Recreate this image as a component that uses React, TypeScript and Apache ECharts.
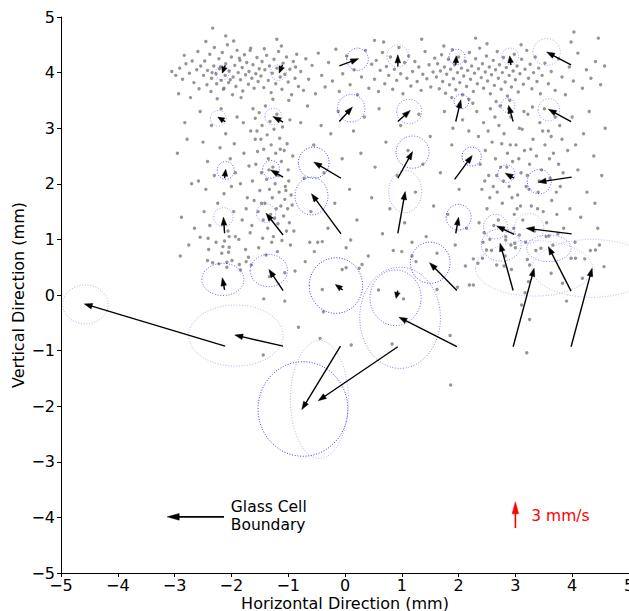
import React, { useEffect, useRef } from "react";
import * as echarts from "echarts";

// Quiver arrows: tail position (mm) and displacement (mm on the plot)
const arrowX = [-2.11, -1.10, -0.10, 0.93, 1.95, 2.92, 3.98, -2.11, -1.09, -0.10, 0.93, 1.95, 2.96, 3.98, -2.12, -1.09, -0.07, 0.93, 1.93, 2.98, 3.99, -2.12, -1.09, -0.07, 0.93, 1.95, 2.98, 3.99, -2.12, -1.09, -0.04, 0.93, 1.97, 2.96, 3.98, -2.11, -1.09, -0.08, 0.93, 1.97, 2.96, 3.98];
const arrowY = [4.13, 4.14, 4.12, 4.11, 4.14, 4.14, 4.14, 3.12, 3.11, 3.12, 3.12, 3.12, 3.12, 3.12, 2.10, 2.12, 2.10, 2.10, 2.08, 2.10, 2.12, 1.11, 1.08, 1.10, 1.11, 1.11, 1.09, 1.10, 0.09, 0.08, 0.09, 0.08, 0.08, 0.08, 0.07, -0.92, -0.92, -0.92, -0.93, -0.93, -0.93, -0.93];
const arrowU = [-0.05, -0.06, 0.34, 0.0, 0.01, -0.02, -0.43, -0.13, -0.18, 0.23, 0.22, 0.09, -0.08, -0.40, 0.02, -0.22, -0.48, 0.26, 0.31, -0.16, -0.59, -0.02, -0.30, -0.52, 0.13, 0.05, -0.31, -0.80, -0.04, -0.25, -0.13, -0.03, -0.48, -0.23, -0.40, -2.48, -0.85, -0.68, -1.40, -1.02, 0.37, 0.37];
const arrowV = [-0.14, -0.15, 0.13, 0.21, 0.16, 0.16, 0.23, 0.08, 0.10, 0.26, 0.20, 0.39, 0.29, 0.22, 0.16, 0.13, 0.29, 0.48, 0.43, 0.09, -0.09, 0.29, 0.39, 0.72, 0.75, 0.29, 0.15, 0.10, 0.22, 0.38, 0.10, -0.14, 0.50, 0.85, 0.80, 0.76, 0.20, -1.14, -0.97, 0.53, 1.41, 1.41];

// Uncertainty ellipses (centre, semi-axes in mm, opacity)
const ellX = [-2.16, -1.17, 0.22, 0.93, 1.97, 2.91, 3.55, -2.23, -1.26, 0.11, 1.13, 2.05, 2.87, 3.59, -2.10, -1.30, -0.55, 1.19, 2.23, 2.84, 3.42, -2.14, -1.39, -0.59, 1.06, 2.00, 2.65, 3.24, -2.15, -1.34, -0.16, 0.89, 1.50, 2.75, 3.59, -4.57, -1.92, -0.74, -0.45, 0.97, 3.33, 4.35];
const ellY = [4.00, 4.00, 4.24, 4.30, 4.28, 4.29, 4.37, 3.18, 3.21, 3.36, 3.30, 3.48, 3.41, 3.33, 2.24, 2.26, 2.38, 2.57, 2.49, 2.18, 2.04, 1.40, 1.47, 1.78, 1.86, 1.40, 1.23, 1.20, 0.28, 0.44, 0.17, -0.05, 0.58, 0.90, 0.84, -0.17, -0.73, -2.05, -1.88, -0.41, 0.48, 0.48];
const ellRX = [0.12, 0.14, 0.19, 0.19, 0.14, 0.15, 0.24, 0.14, 0.15, 0.24, 0.22, 0.13, 0.12, 0.19, 0.15, 0.15, 0.27, 0.29, 0.17, 0.15, 0.21, 0.17, 0.17, 0.29, 0.29, 0.22, 0.21, 0.26, 0.37, 0.33, 0.47, 0.45, 0.35, 0.35, 0.39, 0.40, 0.83, 0.79, 0.51, 0.71, 1.03, 1.06];
const ellRY = [0.13, 0.14, 0.20, 0.20, 0.14, 0.15, 0.24, 0.14, 0.15, 0.25, 0.22, 0.13, 0.13, 0.20, 0.16, 0.16, 0.28, 0.29, 0.17, 0.16, 0.22, 0.17, 0.17, 0.34, 0.38, 0.23, 0.22, 0.27, 0.29, 0.29, 0.50, 0.50, 0.37, 0.29, 0.24, 0.35, 0.55, 0.85, 1.06, 0.91, 0.50, 0.52];
const ellAlpha = [0.4, 0.4, 0.7, 0.4, 0.7, 0.4, 0.4, 0.4, 0.45, 0.65, 0.55, 0.7, 0.55, 0.45, 0.7, 0.7, 0.85, 0.7, 0.85, 0.6, 0.7, 0.45, 0.45, 0.7, 0.4, 0.7, 0.5, 0.35, 0.65, 0.65, 0.85, 0.65, 0.8, 0.55, 0.55, 0.35, 0.35, 0.85, 0.35, 0.55, 0.3, 0.3];

// Particle positions (mm)
const dots: number[][] = [
  [-2.98,3.95],[-2.91,4.08],[-2.86,3.88],[-2.80,4.16],[-2.74,3.99],[-2.69,4.21],[-2.66,3.82],[-2.61,4.05],[-2.57,3.71],[-2.54,4.12],[-2.93,3.62],[-2.72,3.55],[-2.83,4.31],[-2.59,4.38],[-3.05,4.02],
  [-2.49,3.95],[-2.47,4.21],[-2.43,3.78],[-2.42,4.04],[-2.38,4.33],[-2.36,3.66],[-2.35,3.9],[-2.31,4.12],[-2.3,4.45],[-2.27,3.98],[-2.26,3.8],[-2.22,4.25],[-2.21,4.07],[-2.18,3.86],[-2.16,4.36],[-2.14,3.7],[-2.11,3.95],[-2.1,4.16],[-2.07,4.5],[-2.05,3.82],[-2.04,4.03],[-2.0,4.28],[-1.98,3.6],[-1.97,3.92],[-1.94,4.13],[-1.92,3.75],[-1.9,4.4],[-1.88,4.0],[-1.85,4.22],[-1.84,3.87],[-1.81,4.09],[-1.8,3.67],[-1.77,4.32],[-1.75,3.96],[-1.73,4.18],[-1.7,3.79],[-1.69,4.02],[-1.66,4.44],[-1.64,3.9],[-1.62,4.14],[-1.6,3.72],[-1.57,3.98],[-1.55,4.27],[-1.53,3.84],[-1.51,4.07],
  [-2.45,4.56],[-2.25,3.53],[-2.13,3.72],[-1.96,4.57],[-1.83,3.55],[-1.67,4.4],[-2.34,4.0],[-2.19,4.1],[-2.02,3.87],[-1.86,4.26],
  [-1.48,3.94],[-1.46,4.2],[-1.43,3.73],[-1.41,4.05],[-1.38,4.31],[-1.35,3.86],[-1.33,4.12],[-1.3,3.64],[-1.28,3.99],[-1.25,4.24],[-1.22,3.8],[-1.2,4.08],[-1.17,4.38],[-1.14,3.92],[-1.11,3.7],[-1.09,4.17],[-1.06,3.97],[-1.03,4.28],[-1.0,3.83],[-0.97,4.06],[-0.94,3.6],[-0.91,4.2],[-0.88,3.9],[-0.85,4.33],[-0.82,3.75],[-1.42,4.43],[-1.27,3.52],[-1.12,4.48],[-0.99,3.5],[-0.87,4.1],
  [-0.78,4.02],[-0.73,3.68],[-0.69,4.25],[-0.64,3.88],[-0.58,4.13],[-0.52,3.62],[-0.47,4.35],[-0.41,3.95],[-0.35,3.74],[-0.29,4.18],[-0.22,3.85],[-0.16,4.42],[-0.1,3.66],[-0.04,3.98],[0.03,4.3],[0.09,3.78],[0.16,4.05],[0.22,3.6],[0.29,3.92],[0.36,4.4],[0.42,3.72],[0.47,4.15],
  [0.52,3.88],[0.55,4.22],[0.59,3.66],[0.62,4.04],[0.66,4.36],[0.7,3.8],[0.73,4.11],[0.77,3.95],[0.8,4.28],[0.84,3.7],[0.87,4.06],[0.91,3.86],[0.95,4.45],[0.98,3.98],[1.02,3.62],[1.05,4.18],[1.09,3.9],[1.12,4.3],[1.16,3.76],[1.19,4.02],[1.23,4.2],[1.27,3.84],[1.3,4.1],[1.34,3.68],[1.37,3.97],[1.41,4.38],[1.44,3.89],[1.48,4.14],[1.51,3.74],[1.55,4.01],[1.58,4.26],[0.68,4.55],
  [1.61,3.92],[1.63,4.16],[1.66,3.71],[1.68,4.03],[1.7,4.32],[1.72,3.84],[1.75,4.1],[1.77,3.63],[1.79,3.97],[1.82,4.24],[1.84,3.78],[1.86,4.06],[1.89,4.41],[1.91,3.89],[1.93,4.14],[1.95,3.69],[1.98,4.0],[2.0,4.28],[2.02,3.82],[2.05,4.08],[2.07,3.6],[2.09,3.94],[2.12,4.2],[2.14,3.75],[2.16,4.04],[2.19,4.36],[2.21,3.88],[2.23,4.12],[2.26,3.66],[2.28,3.99],[2.3,4.25],[2.33,3.8],[2.35,4.07],[2.37,4.44],[2.4,3.91],[2.42,4.16],[2.44,3.72],[2.47,4.01],[2.49,4.3],[2.51,3.85],[2.54,4.1],[2.56,3.62],[2.58,3.96],[2.61,4.22],[2.63,3.77],[2.65,4.05],[2.68,4.38],[2.7,3.9],[2.72,4.14],[2.75,3.7],[2.77,4.0],[2.79,4.27],[2.82,3.83],[2.84,4.09],[2.86,3.58],[2.89,3.95],[2.91,4.2],[2.93,3.74],[2.96,4.03],[2.98,4.33],[3.0,3.87],[3.03,4.12],[3.05,3.65],[3.08,3.98],[3.11,4.24],[3.14,3.79],[3.17,4.06],[3.2,4.4],[3.23,3.9],[3.26,4.15],[3.29,3.71],[3.32,4.0],[3.35,4.28],[3.38,3.84],[3.41,4.08],[3.44,3.62],[3.47,3.95],
  [1.74,4.48],[2.18,3.52],[2.5,4.52],[2.9,3.5],[3.1,4.5],[2.25,3.45],[1.88,3.55],[2.66,3.48],
  [3.52,4.17],[3.58,3.8],[3.63,4.02],[3.7,3.68],[3.76,4.25],[3.82,3.92],[3.88,3.6],[3.95,4.1],[4.02,3.85],[4.1,4.35],[4.18,3.72],[4.25,4.05],[4.33,3.9],[4.41,4.2],[4.5,3.78],[4.57,4.12],[4.03,4.73],[3.98,4.55],
  [-2.33,4.8],[-2.1,4.66],[0.52,4.58],[1.35,4.6],[2.3,4.62],[-1.2,4.6],[4.46,4.62],
  [-1.62,3.35],[-1.58,3.18],[-1.55,2.95],[-1.51,3.28],[-1.48,2.8],[-1.46,3.05],[-1.43,2.62],[-1.4,3.4],[-1.37,2.88],[-1.35,2.45],[-1.32,3.12],[-1.3,2.7],[-1.27,2.3],[-1.25,2.98],[-1.22,2.55],[-1.2,3.25],[-1.17,2.15],[-1.15,2.82],[-1.12,2.4],[-1.1,3.02],[-1.07,2.6],[-1.05,1.95],[-1.02,2.72],[-1.0,2.25],[-0.97,3.15],[-0.95,1.8],[-0.92,2.5],
  [-1.63,2.05],[-1.6,1.7],[-1.57,2.35],[-1.53,1.5],[-1.5,1.88],[-1.47,2.2],[-1.44,1.35],[-1.41,1.65],[-1.38,2.08],[-1.36,1.2],[-1.33,1.9],[-1.31,1.45],[-1.28,1.75],[-1.26,1.05],[-1.23,2.0],[-1.21,1.55],[-1.18,1.28],[-1.16,1.85],[-1.13,1.6],[-1.11,0.98],[-1.08,1.42],[-1.06,1.72],[-1.03,1.15],[-1.01,1.55],[-0.98,1.3],[-0.96,0.9],[-0.93,1.62],
  [-1.54,2.58],[-1.45,1.02],[-1.34,2.25],[-1.24,1.38],[-1.14,2.62],[-1.04,1.88],[-1.64,1.25],[-1.52,0.85],[-1.39,0.72],[-1.29,0.95],[-1.19,0.78],[-0.99,2.05],[-0.9,1.15],[-1.47,1.65],[-1.58,2.8],
  [-2.55,3.3],[-2.5,2.75],[-2.45,1.9],[-2.42,2.4],[-2.38,1.25],[-2.35,3.05],[-2.3,2.15],[-2.27,0.95],[-2.24,1.65],[-2.2,2.65],[-2.17,0.75],[-2.13,1.82],[-2.1,2.9],[-2.06,1.15],[-2.02,2.45],[-1.99,0.62],[-1.96,1.5],[-1.93,2.2],[-1.9,3.2],[-1.87,1.0],[-1.84,2.0],[-1.81,1.35],[-1.78,2.55],[-1.75,0.82],[-1.72,1.75],[-1.69,2.32],[-1.67,1.12],[-1.66,2.95],[-2.48,1.5],[-2.33,0.58],[-2.18,3.35],[-2.0,1.95],[-1.86,0.55],[-1.74,1.55],[-2.58,2.05],[-2.4,0.82],[-1.95,2.72],[-1.79,3.1],[-2.08,0.5],[-1.7,0.68],
  [-2.95,2.55],[-2.88,1.4],[-2.82,3.1],[-2.75,0.9],[-2.7,2.0],[-2.65,1.2],[-2.9,0.7],[-2.78,2.8],
  [2.32,3.3],[2.35,2.85],[2.38,2.35],[2.41,1.9],[2.44,3.1],[2.47,2.6],[2.5,1.55],[2.53,2.15],[2.56,3.35],[2.59,2.75],[2.62,1.25],[2.65,2.45],[2.68,1.85],[2.71,3.05],[2.74,2.3],[2.77,1.65],[2.8,2.9],[2.83,1.05],[2.86,2.55],[2.89,1.95],[2.92,3.2],[2.95,2.4],[2.98,1.45],[3.01,2.7],[3.04,1.8],[3.07,3.0],[3.1,2.2],[3.13,1.35],[3.16,2.6],[3.19,1.95],[3.22,3.25],[3.25,2.35],[3.28,1.6],[3.31,2.8],[3.34,1.15],[3.37,2.5],[3.4,1.85],[3.43,3.1],[3.46,2.25],[3.49,1.5],[3.52,2.7],[3.55,1.3],[3.58,2.95],[3.61,2.1],[3.64,1.7],[3.67,2.55],[3.7,3.2],[3.73,1.45],[3.76,2.35],[3.79,1.95],[3.82,2.8],[3.85,1.2],
  [2.36,1.3],[2.43,0.95],[2.52,2.95],[2.58,0.8],[2.64,3.2],[2.7,1.35],[2.76,2.72],[2.82,0.7],[2.88,3.35],[2.94,1.75],[3.0,0.85],[3.06,2.45],[3.12,2.98],[3.18,0.95],[3.24,1.9],[3.3,3.38],[3.36,0.8],[3.42,2.05],[3.48,2.95],[3.54,1.05],[3.6,2.45],[3.66,0.9],[3.72,1.85],[3.78,3.05],[3.84,2.2],
  [2.46,2.05],[2.55,1.75],[2.67,2.15],[2.79,2.05],[2.91,2.7],[3.03,1.55],[3.15,3.3],[3.27,2.62],[3.39,1.55],[3.51,3.35],[3.63,2.85],[3.75,1.1],[2.61,1.95],[2.73,3.4],[2.85,2.3],[2.97,1.2],[3.09,1.6],[3.21,2.15],
  [3.92,2.6],[3.96,1.55],[4.0,3.2],[4.05,0.95],[4.1,2.25],[4.15,1.4],[4.2,2.9],[4.26,1.85],[4.32,0.8],[4.38,2.5],[4.45,1.2],[4.52,2.15],[4.58,3.0],[4.4,1.65],[4.22,0.65],[4.06,2.7],[4.48,0.9],[4.3,3.3],
  [-0.78,3.1],[-0.72,2.1],[-0.66,3.4],[-0.6,1.5],[-0.55,2.7],[-0.48,0.95],[-0.42,3.05],[-0.37,2.2],[-0.3,1.2],[-0.25,2.9],[-0.18,1.65],[-0.12,3.3],[-0.05,2.45],[0.02,0.85],[0.08,1.9],[0.15,2.95],[0.21,1.35],[0.28,2.55],[0.34,3.2],[0.41,0.7],[0.47,1.75],[0.53,2.3],[0.6,3.35],[0.66,1.1],[0.72,2.75],[0.79,1.55],[0.85,0.8],[0.92,2.15],[0.98,3.05],[1.05,1.3],[1.11,2.6],[1.18,0.95],[1.24,1.85],[1.3,3.25],[1.37,2.35],[1.43,1.05],[1.5,2.85],[1.56,1.6],[1.62,0.75],[1.68,2.2],[1.75,3.3],[1.81,1.45],[1.88,2.7],[1.94,0.9],[2.01,1.9],[2.07,3.15],[2.14,1.2],[2.2,2.45],[2.26,0.65],[-0.7,0.6],[0.3,0.55],[1.25,0.6],[1.9,3.0],[2.18,2.95],
  [-2.55,1.04],[-2.41,1.02],[-2.04,1.05],[-1.93,1.05],[-2.12,0.97],[-2.15,0.87],[-2.04,0.86],[-2.05,0.77],[-2.42,0.62],[-2.22,0.56],[-2.08,0.59],[-1.84,0.45],[-1.74,0.6],[-1.65,0.54],[-1.43,-0.07],[-1.06,-0.11],[-0.82,-0.58],[-0.88,0.43],[-1.06,0.4],[-1.33,0.33],[-0.54,0.78],[-0.40,0.96],[-0.62,0.95],[-0.40,0.10],[-0.44,-0.78],[-0.38,-0.30],[-1.44,-1.08],[0.10,0.99],[1.0,0.78],[1.18,0.70],[0.59,0.09],[1.03,-0.07],[1.62,0.10],[1.98,0.14],[2.12,0.52],[2.19,0.18],[2.34,0.57],[-0.05,0.46],[0.02,0.49],[0.25,0.48],[0.11,-0.9],[0.83,-0.88],[1.85,-0.73],[1.86,-1.62],[3.2,-1.04],
  [2.45,1.12],[2.55,1.0],[2.49,0.81],[2.42,0.66],[2.67,0.54],[2.80,0.52],[2.93,0.46],[2.83,0.99],[2.92,0.9],[2.99,0.93],[3.07,1.08],[3.21,0.64],[3.25,0.54],[3.23,0.24],[3.17,0.04],[3.11,-0.18],[3.25,-0.44],[3.63,0.39],[3.59,1.06],[3.45,0.84],[3.98,0.66],[4.06,0.66],[3.83,0.21],[4.18,0.30],[3.9,-0.11],[4.33,0.36],[4.41,0.81],[4.56,0.51],[2.26,0.18]
];

// Annotation arrows: glass cell boundary pointer and 3 mm/s scale key
const noteArrowX = [-2.13, 3.0];
const noteArrowY = [-3.99, -4.19];
const noteArrowU = [-1.0, 0];
const noteArrowV = [0, 0.47];
const noteArrowColor = ["#000000", "#ff0000"];
// Annotation texts (one entry per line)
const noteTextX = [-2.01, -2.01, 3.28];
const noteTextY = [-3.82, -4.13, -3.97];
const noteText = ["Glass Cell", "Boundary", "3 mm/s"];
const noteTextColor = ["#000000", "#000000", "#ff0000"];

const FONT = "DejaVu Sans";

function arrowShape(p0: number[], p1: number[], hl0: number, hw: number, lw: number, color: string) {
  const dx = p1[0] - p0[0];
  const dy = p1[1] - p0[1];
  const len = Math.hypot(dx, dy) || 1;
  const ux = dx / len;
  const uy = dy / len;
  const hl = Math.min(hl0, len * 0.75);
  const bx = p1[0] - ux * hl;
  const by = p1[1] - uy * hl;
  return {
    type: "group",
    children: [
      { type: "line", shape: { x1: p0[0], y1: p0[1], x2: bx + ux * 1, y2: by + uy * 1 }, style: { stroke: color, lineWidth: lw } },
      {
        type: "polygon",
        shape: { points: [[p1[0], p1[1]], [bx - uy * hw, by + ux * hw], [bx + uy * hw, by - ux * hw]] },
        style: { fill: color, stroke: color, lineWidth: 0.5 },
      },
    ],
  };
}

export default function App() {
  const ref = useRef<HTMLDivElement>(null);
  useEffect(() => {
    document.body.style.margin = "0";
    const chart = echarts.init(ref.current as HTMLDivElement, null, { renderer: "svg" });
    const arrowData = arrowX.map((x, i) => [x, arrowY[i], arrowU[i], arrowV[i]]);
    const ellData = ellX.map((x, i) => [x, ellY[i], ellRX[i], ellRY[i], ellAlpha[i]]);
    const noteArrowData = noteArrowX.map((x, i) => [x, noteArrowY[i], noteArrowU[i], noteArrowV[i], i]);
    const noteTextData = noteTextX.map((x, i) => [x, noteTextY[i], i]);
    const fmt = (v: number) => String(v).replace("-", "\u2212");
    const axisCommon = {
      type: "value",
      min: -5,
      max: 5,
      interval: 1,
      nameLocation: "middle",
      nameMoveOverlap: false,
      nameTextStyle: { fontSize: 16, color: "#000", fontFamily: FONT },
      axisLine: { show: true, onZero: false, lineStyle: { color: "#000", width: 1 } },
      axisTick: { show: true, length: 4, lineStyle: { color: "#000", width: 1 } },
      splitLine: { show: false },
    };
    const option: any = {
      animation: false,
      grid: { left: 61, right: 0, top: 17, bottom: 38, containLabel: false, outerBoundsMode: "none" },
      xAxis: {
        ...axisCommon,
        name: "Horizontal Direction (mm)",
        nameGap: 22,
        axisLabel: { fontSize: 16, color: "#000", fontFamily: FONT, margin: 4, formatter: fmt },
      },
      yAxis: {
        ...axisCommon,
        name: "Vertical Direction (mm)",
        nameGap: 35,
        axisLabel: { fontSize: 16, color: "#000", fontFamily: FONT, margin: 6, formatter: fmt },
      },
      series: [
        {
          type: "scatter",
          data: dots,
          symbol: "circle",
          symbolSize: 3.4,
          itemStyle: { color: "#7a7a7a" },
          silent: true,
          z: 1,
        },
        {
          type: "custom",
          coordinateSystem: "cartesian2d",
          data: ellData,
          encode: { x: 0, y: 1 },
          silent: true,
          clip: true,
          z: 2,
          renderItem: (params: any, api: any) => {
            const c = api.coord([api.value(0), api.value(1)]);
            const s = api.size([api.value(2), api.value(3)]);
            const a = api.value(4);
            return {
              type: "ellipse",
              shape: { cx: c[0], cy: c[1], rx: s[0], ry: s[1] },
              style: { fill: "none", stroke: `rgba(0,0,255,${a})`, lineWidth: 0.9, lineDash: [1, 1.7] },
            };
          },
        },
        {
          type: "custom",
          coordinateSystem: "cartesian2d",
          data: arrowData,
          encode: { x: 0, y: 1 },
          silent: true,
          clip: false,
          z: 3,
          renderItem: (params: any, api: any) => {
            const x = api.value(0), y = api.value(1);
            const p0 = api.coord([x, y]);
            const p1 = api.coord([x + api.value(2), y + api.value(3)]);
            return arrowShape(p0, p1, 8, 2.8, 1.4, "#000");
          },
        },
        {
          type: "custom",
          coordinateSystem: "cartesian2d",
          data: noteArrowData,
          encode: { x: 0, y: 1 },
          silent: true,
          z: 4,
          renderItem: (params: any, api: any) => {
            const x = api.value(0), y = api.value(1);
            const p0 = api.coord([x, y]);
            const p1 = api.coord([x + api.value(2), y + api.value(3)]);
            const i = api.value(4);
            return arrowShape(p0, p1, 12, 3.3, 1.6, noteArrowColor[i]);
          },
        },
        {
          type: "custom",
          coordinateSystem: "cartesian2d",
          data: noteTextData,
          encode: { x: 0, y: 1 },
          silent: true,
          z: 4,
          renderItem: (params: any, api: any) => {
            const p = api.coord([api.value(0), api.value(1)]);
            const i = api.value(2);
            return {
              type: "text",
              x: p[0],
              y: p[1],
              style: {
                text: noteText[i],
                fill: noteTextColor[i],
                fontSize: 15.5,
                fontFamily: FONT,
                align: "left",
                verticalAlign: "middle",
              },
            };
          },
        },
      ],
    };
    chart.setOption(option);
    return () => chart.dispose();
  }, []);
  return <div ref={ref} style={{ width: 629, height: 611 }} />;
}
